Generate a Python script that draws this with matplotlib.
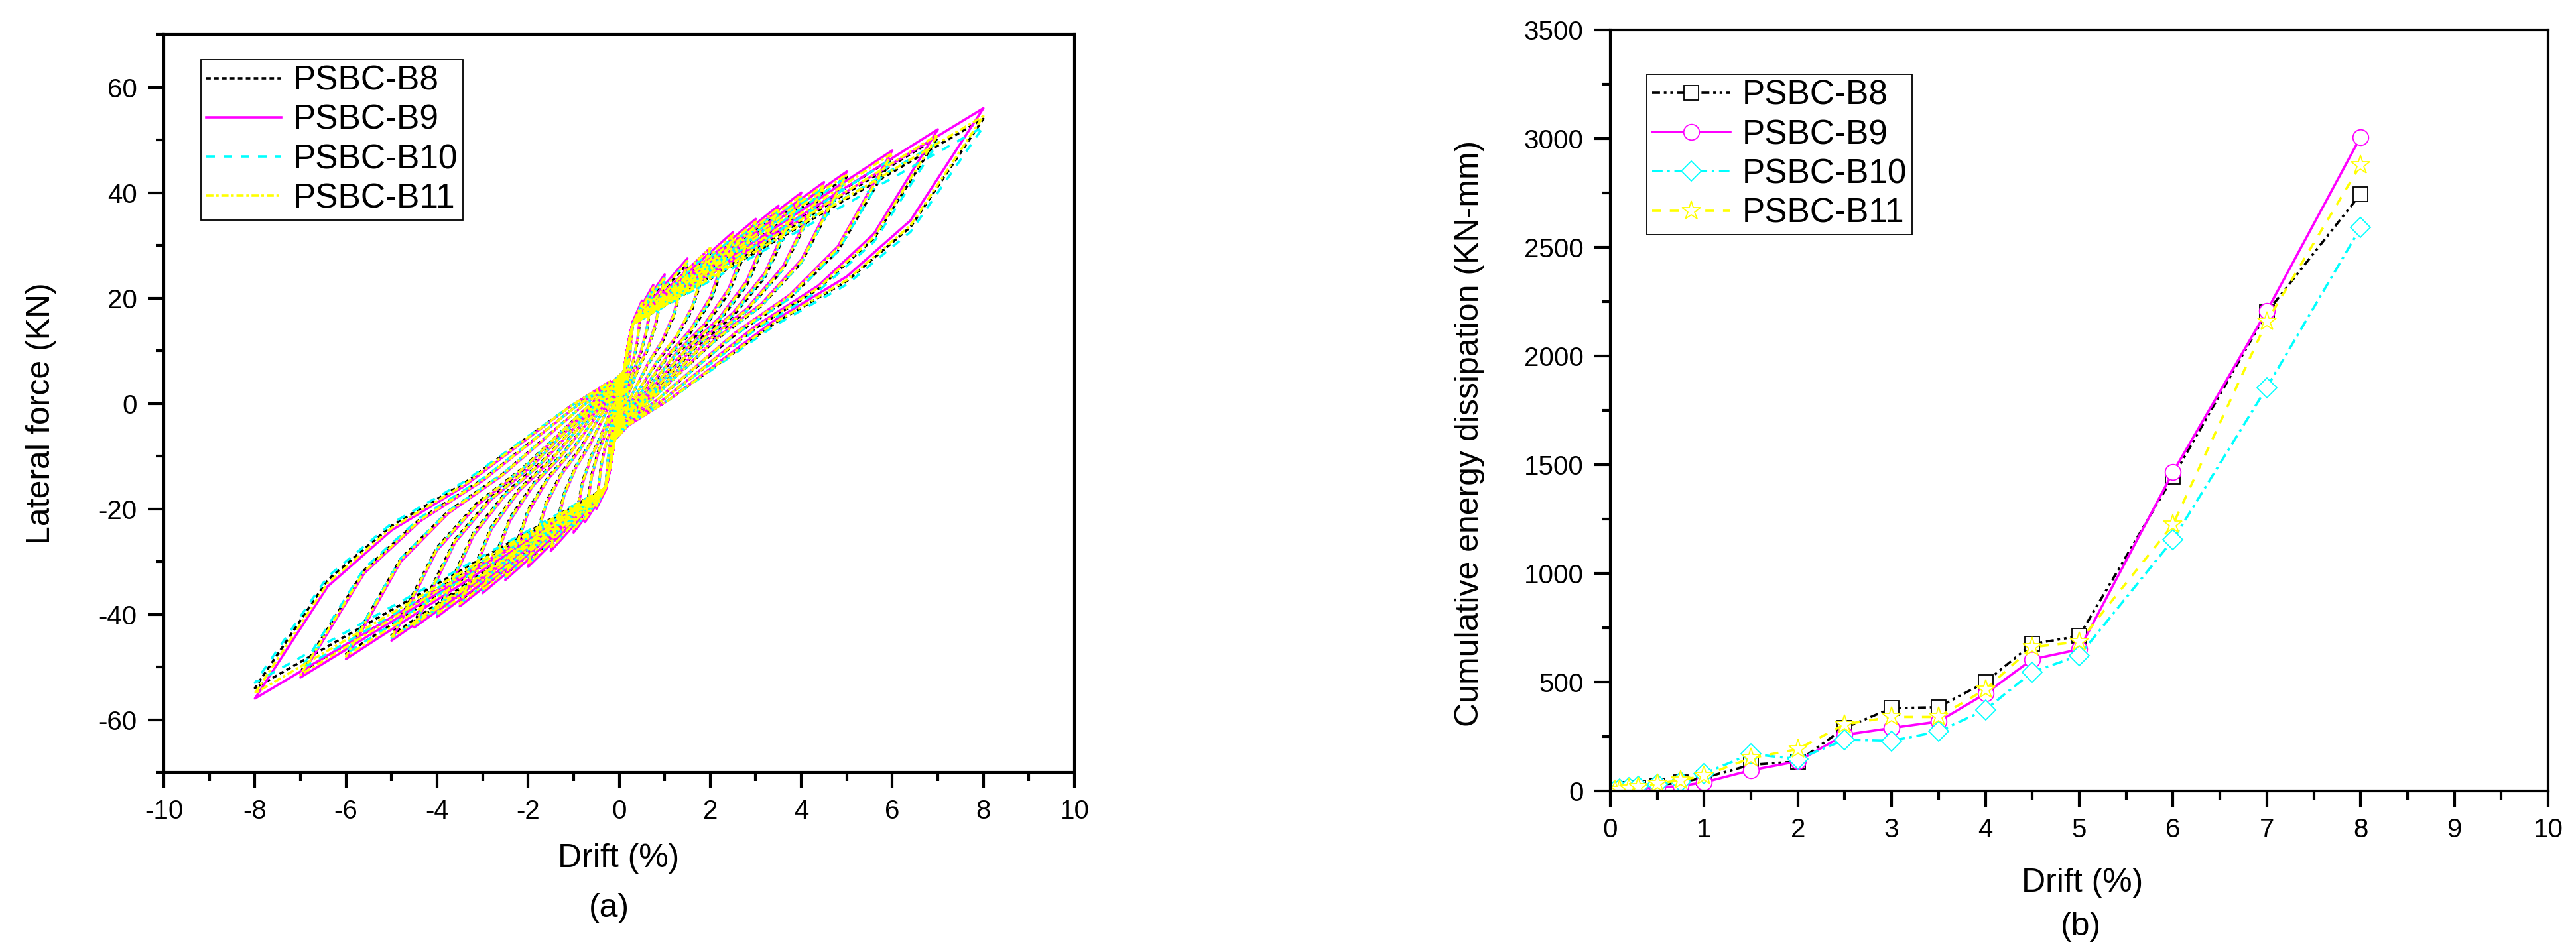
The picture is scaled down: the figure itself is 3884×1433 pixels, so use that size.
import matplotlib
matplotlib.use("Agg")
import matplotlib.pyplot as plt
from matplotlib.ticker import MultipleLocator, FixedLocator

plt.rcParams['font.family'] = ['Liberation Sans', 'DejaVu Sans']
plt.rcParams['axes.unicode_minus'] = False

labels = ["PSBC-B8", "PSBC-B9", "PSBC-B10", "PSBC-B11"]
colors = ["#000000", "#ff00ff", "#00ffff", "#ffff00"]

# (a) hysteresis: loading levels and peak forces (KN) of each specimen
drift_levels = [0.1, 0.2, 0.3, 0.5, 0.75, 1.0, 1.5, 2.0, 2.5, 3.0, 3.5, 4.0, 4.5, 5.0, 6.0, 7.0, 8.0]
pos_b8 = [6, 11, 15, 18.5, 21.5, 23.5, 26.5, 28.5, 31, 33.5, 36, 38.5, 41, 43, 46.5, 50.5, 54]
neg_b8 = [-7, -12, -16, -19, -21.5, -23.5, -27, -30, -32.5, -35, -37.5, -39.5, -41.5, -44, -47.5, -51, -54]
pos_b9 = [6, 11.5, 15.5, 19.5, 22.5, 24.5, 27.5, 29.5, 32.5, 35, 37.5, 40, 42, 44, 48, 52, 56]
neg_b9 = [-7, -12.5, -16.5, -20, -22.5, -24.5, -28, -31, -33.5, -36, -38.5, -40.5, -42.5, -45, -48.5, -52, -56]
pos_b10 = [6, 11, 15, 19, 22, 24, 27, 29, 31.5, 34, 36.5, 39, 41, 43, 46.5, 49.5, 52.5]
neg_b10 = [-7, -12, -16, -19.5, -22, -24, -27.5, -30.5, -33, -35.5, -38, -40, -42, -44.5, -47.5, -50.5, -53]
pos_b11 = [6, 11, 15, 19, 22, 24, 27, 29.5, 32, 34.5, 37, 39.5, 41.5, 43.5, 47.5, 51, 54.5]
neg_b11 = [-7, -12, -16, -19.5, -22, -24, -27.5, -30.5, -33, -35.5, -38, -40, -42, -44.5, -48, -51.5, -55]

unload_drift_frac = [1.0, 0.8, 0.625, 0.425, 0.134, 0.025]
unload_force_frac = [1.0, 0.62, 0.43, 0.28, 0.01, -0.075]
pinch_drift = 0.3

# (b) cumulative energy dissipation (KN-mm)
energy_drift = [0.05, 0.1, 0.2, 0.3, 0.5, 0.75, 1, 1.5, 2, 2.5, 3, 3.5, 4, 4.5, 5, 6, 7, 8]
energy_b8 = [3, 6, 10, 15, 25, 40, 60, 120, 135, 290, 380, 385, 500, 676, 712, 1444, 2200, 2745]
energy_b9 = [2, 4, 7, 10, 16, 23, 39, 95, 136, 258, 289, 319, 447, 605, 651, 1466, 2207, 3007]
energy_b10 = [4, 8, 14, 20, 30, 44, 80, 170, 146, 235, 230, 273, 373, 547, 622, 1155, 1855, 2590]
energy_b11 = [3, 7, 12, 18, 34, 49, 70, 151, 192, 306, 340, 340, 467, 661, 686, 1225, 2159, 2879]


def loop_path(levels, pos, neg):
    xs, ys = [0.0], [0.0]
    for i, d in enumerate(levels):
        for j in range(i):
            if levels[j] <= pinch_drift:
                xs.append(levels[j])
                ys.append(pos[j])
        xs.append(d)
        ys.append(pos[i])
        for fx, ff in zip(unload_drift_frac[1:], unload_force_frac[1:]):
            xs.append(fx * d)
            ys.append(ff * pos[i])
        for j in range(i):
            if levels[j] <= pinch_drift:
                xs.append(-levels[j])
                ys.append(neg[j])
        xs.append(-d)
        ys.append(neg[i])
        for fx, ff in zip(unload_drift_frac[1:], unload_force_frac[1:]):
            xs.append(-fx * d)
            ys.append(ff * neg[i])
    return xs, ys


fig = plt.figure(figsize=(38.84, 14.33), dpi=100)
ax1 = fig.add_axes([0.0636, 0.187, 0.3535, 0.7767])
ax2 = fig.add_axes([0.6251, 0.1675, 0.3641, 0.8011])

lw = 2.6
hyst_dashes = [(1.9, 1.4), (), (3.6, 3.6), (3.0, 1.1, 1.1, 1.1)]
hyst_data = [(pos_b8, neg_b8), (pos_b9, neg_b9), (pos_b10, neg_b10), (pos_b11, neg_b11)]
for (p, n), c, ds, lab in zip(hyst_data, colors, hyst_dashes, labels):
    x, y = loop_path(drift_levels, p, n)
    line, = ax1.plot(x, y, color=c, lw=lw, label=lab)
    if ds:
        line.set_dashes(ds)

energy_data = [energy_b8, energy_b9, energy_b10, energy_b11]
markers = ['s', 'o', 'D', '*']
msizes = [16, 17, 15.5, 21]
en_dashes = [(3.3, 1.6, 1.1, 1.6, 1.1, 1.6), (), (4.4, 1.9, 1.1, 1.9), (3.7, 3.7)]
for e, c, m, ms, ds, lab in zip(energy_data, colors, markers, msizes, en_dashes, labels):
    line, = ax2.plot(energy_drift, e, color=c, lw=lw, marker=m, ms=ms,
                     mfc='white', mec=c, mew=1.3, label=lab)
    if ds:
        line.set_dashes(ds)

for ax in (ax1, ax2):
    for s in ax.spines.values():
        s.set_linewidth(3)
    ax.tick_params(which='both', direction='out', top=False, right=False,
                   labelsize=29, width=3, pad=12)
    ax.tick_params(which='major', length=17)
    ax.tick_params(which='minor', length=9)

ax1.set_xlim(-10, 10)
ax1.set_ylim(-70, 70)
ax1.xaxis.set_major_locator(MultipleLocator(2))
ax1.xaxis.set_minor_locator(MultipleLocator(1))
ax1.yaxis.set_major_locator(FixedLocator([-60, -40, -20, 0, 20, 40, 60]))
ax1.yaxis.set_minor_locator(MultipleLocator(10))

ax2.set_xlim(0, 10)
ax2.set_ylim(0, 3500)
ax2.xaxis.set_major_locator(MultipleLocator(1))
ax2.xaxis.set_minor_locator(MultipleLocator(0.5))
ax2.yaxis.set_major_locator(MultipleLocator(500))
ax2.yaxis.set_minor_locator(MultipleLocator(250))

ax1.set_xlabel("Drift (%)", fontsize=36, va='center')
ax1.xaxis.set_label_coords(0.499, -0.117)
ax1.set_ylabel("Lateral force (KN)", fontsize=36, va='center')
ax1.yaxis.set_label_coords(-0.1347, 0.486)

ax2.set_xlabel("Drift (%)", fontsize=36, va='center')
ax2.xaxis.set_label_coords(0.5035, -0.121)
ax2.set_ylabel("Cumulative energy dissipation (KN-mm)", fontsize=36, va='center')
ax2.yaxis.set_label_coords(-0.15, 0.4695)

fig.text(0.2364, 0.044, "(a)", fontsize=36, ha='center', va='center')
fig.text(0.8077, 0.0244, "(b)", fontsize=36, ha='center', va='center')

leg_kw = dict(loc='upper left', fontsize=37, frameon=True, fancybox=False,
              edgecolor='black', borderaxespad=0, borderpad=0.15,
              labelspacing=0.2, handletextpad=0.35, framealpha=1)
leg1 = ax1.legend(bbox_to_anchor=(0.041, 0.966), handlelength=2.2, **leg_kw)
leg2 = ax2.legend(bbox_to_anchor=(0.039, 0.9416), handlelength=2.3, numpoints=1, **leg_kw)
for leg in (leg1, leg2):
    leg.get_frame().set_linewidth(1.3)

fig.savefig("out.png", dpi=100)
